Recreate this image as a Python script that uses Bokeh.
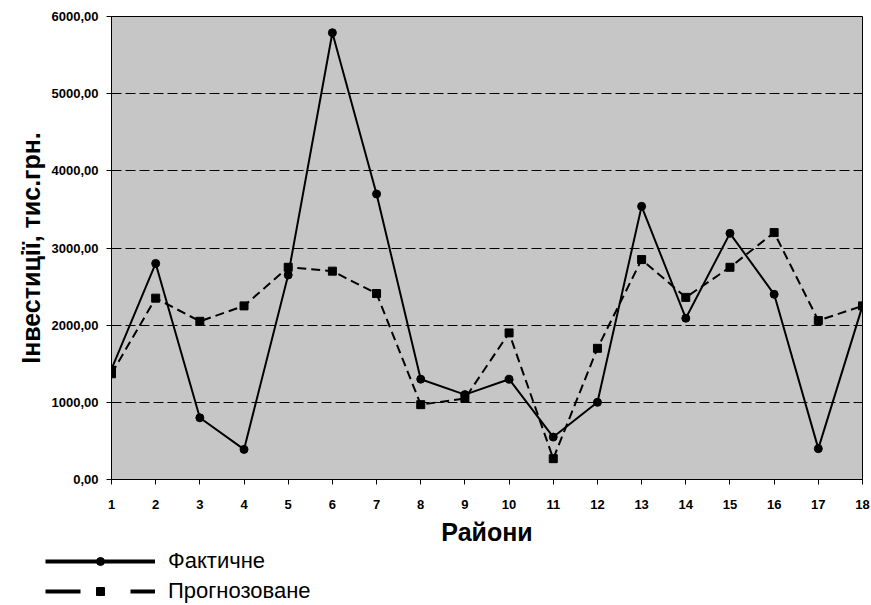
from bokeh.plotting import figure
from bokeh.layouts import column, row
from bokeh.models import (Range1d, FixedTicker, CustomJSTickFormatter, Legend, LegendItem)
from bokeh.embed import file_html
from bokeh.resources import INLINE

districts = list(range(1, 19))
actual = [1430, 2800, 800, 390, 2650, 5790, 3700, 1300, 1100, 1300, 550, 1000,
          3540, 2090, 3190, 2400, 400, 2250]
forecast = [1370, 2350, 2050, 2250, 2750, 2700, 2410, 970, 1050, 1900, 270, 1700,
            2850, 2360, 2750, 3200, 2060, 2250]
y_ticks = [0, 1000, 2000, 3000, 4000, 5000, 6000]
grid_lines = [1000, 2000, 3000, 4000, 5000]
series_names = ["Фактичне", "Прогнозоване"]

FONT = "Liberation Sans"

p = figure(width=871, height=549, output_backend="svg", toolbar_location=None,
           x_range=Range1d(1, 18), y_range=Range1d(0, 6000),
           min_border_left=111, min_border_top=16, min_border_right=9,
           min_border_bottom=70)

p.background_fill_color = "#c6c6c6"
p.border_fill_color = "white"
p.outline_line_color = "black"
p.outline_line_width = 1

p.xgrid.visible = False
p.ygrid.ticker = FixedTicker(ticks=grid_lines)
p.ygrid.grid_line_color = "black"
p.ygrid.grid_line_dash = "10 4"
p.ygrid.grid_line_width = 1

p.xaxis.ticker = FixedTicker(ticks=districts)
p.yaxis.ticker = FixedTicker(ticks=y_ticks)
p.yaxis.formatter = CustomJSTickFormatter(code="return tick.toFixed(2).replace('.', ',');")
p.xaxis.minor_tick_line_color = None
p.yaxis.minor_tick_line_color = None
for ax in (p.xaxis, p.yaxis):
    ax.axis_line_color = "black"
    ax.major_tick_line_color = "black"
    ax.major_tick_in = 0
    ax.major_tick_out = 5
    ax.major_label_text_font = FONT
    ax.major_label_text_font_style = "bold"
    ax.major_label_text_font_size = "13px"
    ax.major_label_text_color = "black"
    ax.axis_label_text_font = FONT
    ax.axis_label_text_font_style = "bold"
    ax.axis_label_text_font_size = "25px"
    ax.axis_label_text_color = "black"

p.xaxis.axis_label = "Райони"
p.yaxis.axis_label = "Інвестиції, тис.грн."
p.xaxis.major_label_standoff = 15
p.xaxis.axis_label_standoff = 6
p.yaxis.major_label_standoff = 8
p.yaxis.axis_label_standoff = 4

p.line(districts, actual, line_color="black", line_width=2)
p.scatter(districts, actual, marker="circle", size=8, fill_color="black", line_color="black")
p.line(districts, forecast, line_color="black", line_width=2, line_dash="9 5")
p.scatter(districts, forecast, marker="square", size=8, fill_color="black", line_color="black")

# legend strip below the chart (series drawn off-view; only legend keys show)
lg = figure(width=871, height=56, output_backend="svg", toolbar_location=None,
            x_axis_type=None, y_axis_type=None,
            x_range=Range1d(-3, -2), y_range=Range1d(-3, -2),
            min_border=0, outline_line_color=None)
lg.grid.visible = False
lg.background_fill_color = "white"
lg.border_fill_color = "white"
r1 = lg.line(districts, actual, line_color="black", line_width=4)
m1 = lg.scatter(districts, actual, marker="circle", size=14, fill_color="black", line_color="black")
r2 = lg.line(districts, forecast, line_color="black", line_width=4, line_dash="35 50")
m2 = lg.scatter(districts, forecast, marker="square", size=13, fill_color="black", line_color="black")
legend = Legend(items=[LegendItem(label=series_names[0], renderers=[r1, m1]),
                       LegendItem(label=series_names[1], renderers=[r2, m2])],
                location=(45, 1), orientation="vertical",
                glyph_width=110, glyph_height=20, label_height=20, label_standoff=13,
                label_text_font=FONT, label_text_font_size="22px",
                label_text_color="black", spacing=4, padding=0, margin=0,
                border_line_color=None, background_fill_alpha=0)
lg.add_layout(legend, "center")

layout = column(p, row(lg, spacing=0), spacing=0)
open("out.html", "w").write(file_html(layout, INLINE))
